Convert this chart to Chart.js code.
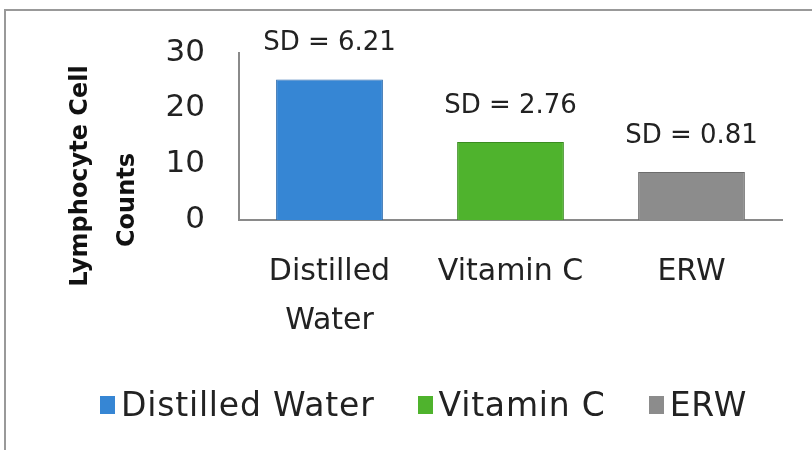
<!DOCTYPE html>
<html>
<head>
<meta charset="utf-8">
<script src="https://cdn.jsdelivr.net/npm/chart.js@4.4.1/dist/chart.umd.min.js"></script>
<style>
  html, body { margin: 0; padding: 0; background: #fff; }
  #wrap { position: relative; width: 812px; height: 450px; overflow: hidden; }
  #frame { position: absolute; left: 4px; top: 9px; width: 900px; height: 600px;
           border-left: 2px solid #999; border-top: 2px solid #999; }
  #legend { position: absolute; left: 100px; top: 385px; display: flex; gap: 43px;
            font-family: "DejaVu Sans", sans-serif; font-size: 33px; letter-spacing: 0.8px; color: #222; }
  #legend span.item { display: flex; align-items: center; }
  #legend span.box { width: 15px; height: 18px; margin-right: 6px; display: inline-block; }
</style>
</head>
<body>
<div id="wrap">
  <div id="frame"></div>
  <canvas id="chart" width="812" height="450"></canvas>
  <div id="legend"></div>
</div>
<script>
// chart data
const categories = [['Distilled', 'Water'], 'Vitamin C', 'ERW'];
const legendNames = ['Distilled Water', 'Vitamin C', 'ERW'];
const counts = [25.2, 14, 8.6];
const sdLabels = ['SD = 6.21', 'SD = 2.76', 'SD = 0.81'];
const barColors = ['#3686d4', '#4fb32d', '#8c8c8c'];
const edgeColors = ['#2466ab', '#3a8c20', '#6c6c6c'];

const FONT = '"DejaVu Sans", sans-serif';

// SD text above every bar + rotated y title
const extraText = {
    id: 'extraText',
    afterDatasetsDraw(chart) {
        const ctx = chart.ctx;
        const meta = chart.getDatasetMeta(0);
        ctx.save();
        ctx.font = '26px ' + FONT;
        ctx.fillStyle = '#222';
        ctx.textAlign = 'center';
        ctx.textBaseline = 'middle';
        meta.data.forEach((bar, i) => {
            ctx.fillText(sdLabels[i], bar.x, bar.y - 36);
        });
        ctx.restore();
    },
    afterDraw(chart) {
        const ctx = chart.ctx;
        ctx.save();
        ctx.font = 'bold 24px ' + FONT;
        ctx.fillStyle = '#111';
        ctx.textAlign = 'center';
        ctx.textBaseline = 'middle';
        ctx.translate(81, 176);
        ctx.rotate(-Math.PI / 2);
        ctx.fillText('Lymphocyte Cell', 0, 0);
        ctx.restore();
        ctx.save();
        ctx.font = 'bold 24px ' + FONT;
        ctx.fillStyle = '#111';
        ctx.textAlign = 'center';
        ctx.textBaseline = 'middle';
        ctx.translate(128, 200);
        ctx.rotate(-Math.PI / 2);
        ctx.fillText('Counts', 0, 0);
        ctx.restore();
    }
};

const ctx = document.getElementById('chart').getContext('2d');
const chart = new Chart(ctx, {
    type: 'bar',
    data: {
        labels: categories,
        datasets: [{
            data: counts,
            backgroundColor: barColors,
            borderColor: edgeColors,
            borderWidth: 1,
            barPercentage: 0.59,
            categoryPercentage: 1
        }]
    },
    options: {
        responsive: false,
        animation: false,
        layout: { padding: { top: 51, right: 30, bottom: 0, left: 0 } },
        plugins: {
            legend: { display: false },
            tooltip: { enabled: false }
        },
        scales: {
            x: {
                grid: { display: false, drawTicks: false },
                border: { display: true, color: '#8a8a8a', width: 2 },
                ticks: {
                    color: '#222',
                    font: { family: FONT, size: 30, lineHeight: 1.63 },
                    padding: 28,
                    maxRotation: 0
                },
                afterFit(scale) { scale.height = 230; }
            },
            y: {
                min: 0,
                max: 30,
                grid: { display: false, drawTicks: false },
                border: { display: true, color: '#8a8a8a', width: 2 },
                ticks: {
                    stepSize: 10,
                    color: '#222',
                    font: { family: FONT, size: 31 },
                    padding: 34
                },
                afterFit(scale) { scale.width = 239; }
            }
        }
    },
    plugins: [extraText]
});

// legend
const legendEl = document.getElementById('legend');
legendNames.forEach((name, i) => {
    const item = document.createElement('span');
    item.className = 'item';
    const box = document.createElement('span');
    box.className = 'box';
    box.style.background = barColors[i];
    item.appendChild(box);
    item.appendChild(document.createTextNode(name));
    legendEl.appendChild(item);
});
</script>
</body>
</html>
